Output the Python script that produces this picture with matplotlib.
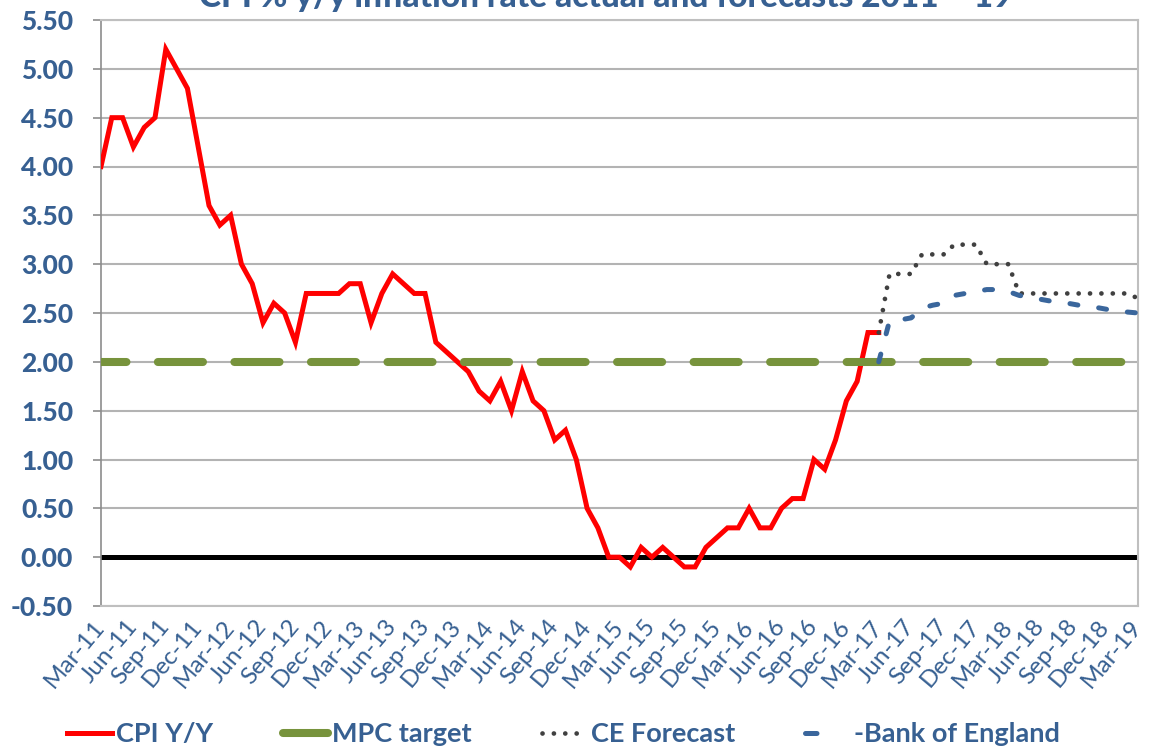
import numpy as np
import matplotlib.pyplot as plt
from matplotlib.lines import Line2D

plt.rcParams['font.family'] = ['Lato', 'DejaVu Sans']

# Datos (mensuales, Mar-11 .. Mar-19)
etiquetas = ['Mar-11', 'Jun-11', 'Sep-11', 'Dec-11', 'Mar-12', 'Jun-12', 'Sep-12', 'Dec-12',
             'Mar-13', 'Jun-13', 'Sep-13', 'Dec-13', 'Mar-14', 'Jun-14', 'Sep-14', 'Dec-14',
             'Mar-15', 'Jun-15', 'Sep-15', 'Dec-15', 'Mar-16', 'Jun-16', 'Sep-16', 'Dec-16',
             'Mar-17', 'Jun-17', 'Sep-17', 'Dec-17', 'Mar-18', 'Jun-18', 'Sep-18', 'Dec-18',
             'Mar-19']
n_meses = 97

cpi = [4.0, 4.5, 4.5, 4.2, 4.4, 4.5, 5.2, 5.0, 4.8, 4.2,
       3.6, 3.4, 3.5, 3.0, 2.8, 2.4, 2.6, 2.5, 2.2, 2.7, 2.7, 2.7,
       2.7, 2.8, 2.8, 2.4, 2.7, 2.9, 2.8, 2.7, 2.7, 2.2, 2.1, 2.0,
       1.9, 1.7, 1.6, 1.8, 1.5, 1.9, 1.6, 1.5, 1.2, 1.3, 1.0, 0.5,
       0.3, 0.0, 0.0, -0.1, 0.1, 0.0, 0.1, 0.0, -0.1, -0.1, 0.1, 0.2,
       0.3, 0.3, 0.5, 0.3, 0.3, 0.5, 0.6, 0.6, 1.0, 0.9, 1.2, 1.6,
       1.8, 2.3, 2.3]
mpc_target = 2.0

# Pronosticos desde Mar-17
inicio_pron = 72
ce_forecast = [2.3, 2.9, 2.9, 2.9, 3.1, 3.1, 3.1, 3.2, 3.2, 3.2,
               3.0, 3.0, 3.0, 2.7, 2.7, 2.7, 2.7, 2.7, 2.7, 2.7, 2.7, 2.7,
               2.7, 2.7, 2.65]
boe = [2.0, 2.42, 2.43, 2.45, 2.55, 2.58, 2.60, 2.68, 2.70, 2.72,
       2.74, 2.74, 2.72, 2.68, 2.66, 2.64, 2.62, 2.61, 2.59, 2.57, 2.56, 2.54,
       2.52, 2.51, 2.50]

azul = '#376092'
rojo = '#FF0000'
verde = '#77933C'
gris_oscuro = '#404040'
azul_linea = '#3A669C'

x = np.arange(n_meses)
x_cpi = x[:len(cpi)]
x_pron = x[inicio_pron:inicio_pron + len(ce_forecast)]

fig = plt.figure(figsize=(11.5, 7.54), dpi=100)
ax = fig.add_axes([101 / 1150, 1 - 606 / 754, (1138 - 101) / 1150, (606 - 20) / 754])

# Linea de cero
ax.axhline(0, color='black', lw=3.6, zorder=2)

ax.plot(x_cpi, cpi, color=rojo, lw=3.6, zorder=3, solid_joinstyle='miter')
ax.plot(x, np.full(n_meses, mpc_target), color=verde, lw=5.8, zorder=4,
        linestyle=(2.44, (5.6, 3.9)), dash_capstyle='round')
ax.plot(x_pron, ce_forecast, color=gris_oscuro, lw=3.4, zorder=5,
        linestyle=(0, (0.01, 2.4)), dash_capstyle='round')
ax.plot(x_pron, boe, color=azul_linea, lw=3.6, zorder=6,
        linestyle=(0, (1.6, 4.2)), dash_capstyle='round')

ax.set_xlim(0, n_meses - 1)
ax.set_ylim(-0.5, 5.5)
ax.set_yticks(np.arange(-0.5, 5.51, 0.5))
ax.set_yticklabels(['%.2f' % v for v in np.arange(-0.5, 5.51, 0.5)])
ax.yaxis.grid(True, color='#B3B3B3', lw=1.5)
ax.set_axisbelow(True)

ax.set_xticks(x[::3])
ax.set_xticklabels(etiquetas, rotation=50, ha='right', va='center', rotation_mode='anchor')
ax.tick_params(axis='x', length=0, pad=12, labelsize=17.5, labelcolor=azul)
ax.tick_params(axis='y', length=6, width=1.2, color='#8C8C8C', pad=14,
               labelsize=19, labelcolor=azul)
for lab in ax.get_yticklabels():
    lab.set_fontweight('black')

ax.spines['left'].set_color('#8C8C8C')
ax.spines['left'].set_linewidth(1.2)
for s in ['top', 'bottom', 'right']:
    ax.spines[s].set_color('#BFBFBF')
    ax.spines[s].set_linewidth(1.5)

fig.text(0.527, 1 - 7 / 754, 'CPI % y/y inflation rate actual and forecasts 2011 \u2013 19',
         ha='center', va='baseline', fontsize=24, fontweight='black', color=azul)

# Leyenda
manijas = [
    Line2D([], [], color=rojo, lw=3.6),
    Line2D([], [], color=verde, lw=5.8, solid_capstyle='round'),
    Line2D([], [], color=gris_oscuro, lw=3.4, linestyle=(0, (0.01, 2.4)), dash_capstyle='round'),
    Line2D([], [], color=azul_linea, lw=3.6, linestyle=(0, (2.3, 12)), dash_capstyle='round'),
]
nombres = ['CPI Y/Y', 'MPC target', 'CE Forecast', '-Bank of England']
leg = fig.legend(manijas, nombres, loc='center', bbox_to_anchor=(0.49, 1 - 734 / 754),
                 ncol=4, frameon=False, handlelength=1.65, handletextpad=0.15,
                 columnspacing=2.6, prop={'size': 19.5, 'weight': 'bold'})
for t in leg.get_texts():
    t.set_color(azul)

fig.savefig('out.png', dpi=100)
